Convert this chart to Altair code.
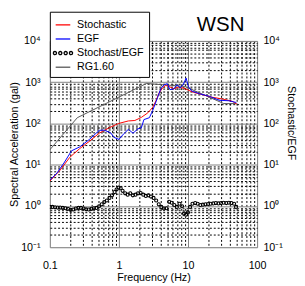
import altair as alt
import pandas as pd

# ---------------- data ----------------
stoch_freq = [0.1, 0.141, 0.195, 0.27, 0.374, 0.518, 0.715, 0.99, 1.37, 1.7, 2.11, 2.62,
              3.08, 3.43, 3.82, 4.26, 4.74, 5.28, 6.21, 7.31, 8.59, 10.1, 11.9, 16.4,
              22.7, 31.5, 43.5, 51]
stoch_val = [4.0, 7.4, 15.2, 24.5, 37, 58, 78, 100, 115, 118, 140, 181,
             245, 353, 552, 723, 835, 791, 698, 750, 723, 640, 570, 495,
             430, 392, 345, 294]

egf_freq = [0.1, 0.127, 0.16, 0.206, 0.27, 0.374, 0.518, 0.61, 0.76, 0.85, 1.0, 1.16,
            1.37, 1.6, 1.88, 2.11, 2.3, 2.76, 3.08, 3.62, 4.04, 4.5, 5.01, 5.46,
            6.21, 6.92, 7.71, 8.59, 9.38, 10.1, 11.3, 14.8, 20.4, 28.2, 39, 50]
egf_val = [4.2, 6.3, 11, 21.7, 27, 41, 68, 69, 59, 46, 41, 55,
           72, 58, 74, 78, 124, 138, 206, 422, 698, 866, 920, 661,
           685, 866, 723, 900, 1260, 791, 610, 523, 455, 365, 355, 322]

rg_freq = [0.1, 0.25, 2.5, 9, 33, 50]
rg_val = [23, 138, 930, 790, 303, 303]

ratio_freq = [0.1, 0.109, 0.119, 0.130, 0.141, 0.154, 0.168, 0.183, 0.200, 0.218,
              0.238, 0.259, 0.282, 0.308, 0.336, 0.366, 0.399, 0.435, 0.473, 0.516,
              0.563, 0.613, 0.669, 0.729, 0.795, 0.866, 0.924, 0.990, 1.06, 1.13,
              1.23, 1.34, 1.46, 1.59, 1.74, 1.89, 2.06, 2.25, 2.45, 2.67,
              2.91, 3.17, 3.46, 3.77, 4.11, 4.48, 4.89, 5.33, 5.81, 6.33,
              6.90, 7.53, 8.21, 8.76, 9.35, 9.98, 10.7, 11.6, 12.7, 13.8,
              15.1, 16.4, 17.9, 19.5, 21.3, 23.2, 25.3, 27.6, 30.1, 32.8,
              35.8, 39.0, 42.5, 46.4, 49.5]
ratio_val = [0.947, 0.947, 0.931, 0.914, 0.914, 0.898, 0.882, 0.851, 0.806, 0.820,
             0.866, 0.898, 0.898, 0.866, 0.835, 0.820, 0.851, 0.882, 0.898, 0.982,
             1.094, 1.241, 1.358, 1.567, 1.810, 2.167, 2.50, 2.79, 2.69, 2.33,
             2.02, 1.88, 2.02, 1.81, 1.88, 2.02, 2.05, 1.88, 1.75, 1.81,
             1.69, 1.567, 1.358, 1.094, 0.947, 0.866, 0.882, 1.26, 1.20, 1.055,
             0.947, 1.134, 0.982, 0.661, 0.615, 0.698, 0.947, 1.134, 1.176, 1.134,
             1.055, 1.075, 1.094, 1.114, 1.134, 1.155, 1.176, 1.155, 1.176, 1.20,
             1.176, 1.20, 1.176, 1.134, 0.947]

series_names = ["Stochastic", "EGF", "Stochast/EGF", "RG1.60"]
series_colors = ["#ff0000", "#0000ff", "#000000", "#555555"]

x_ticks = [0.1, 0.2, 0.3, 0.4, 0.5, 0.6, 0.7, 0.8, 0.9,
           1, 2, 3, 4, 5, 6, 7, 8, 9,
           10, 20, 30, 40, 50, 60, 70, 80, 90, 100]
y_ticks = [0.1, 0.2, 0.3, 0.4, 0.5, 0.6, 0.7, 0.8, 0.9,
           1, 2, 3, 4, 5, 6, 7, 8, 9,
           10, 20, 30, 40, 50, 60, 70, 80, 90,
           100, 200, 300, 400, 500, 600, 700, 800, 900,
           1000, 2000, 3000, 4000, 5000, 6000, 7000, 8000, 9000, 10000]
y_exp_labels = ["10\u207b\u00b9", "10\u2070", "10\u00b9", "10\u00b2", "10\u00b3", "10\u2074"]

# ---------------- table ----------------
def part(f, v, name):
    return pd.DataFrame({"f": f, "v": v, "series": name})

df = pd.concat([
    part(stoch_freq, stoch_val, "Stochastic"),
    part(egf_freq, egf_val, "EGF"),
    part(rg_freq, rg_val, "RG1.60"),
    part(ratio_freq, ratio_val, "Stochast/EGF"),
], ignore_index=True)

FONT = "Liberation Sans"
L = "log(datum.value)/LN10"
is_dec = f"abs({L} - round({L})) < 0.001"

grid_color = {"condition": {"test": is_dec, "value": "#808080"}, "value": "#000000"}
grid_dash = {"condition": {"test": is_dec, "value": []}, "value": [2, 2]}

y_label_expr = (f"{is_dec} ? ['" + "','".join(y_exp_labels) + f"'][round({L}) + 1] : ''")
x_label_expr = f"{is_dec} ? format(datum.value, '~g') : ''"

x_enc = alt.X(
    "f:Q",
    scale=alt.Scale(type="log", domain=[0.1, 100], nice=False),
    axis=alt.Axis(
        values=x_ticks, labelExpr=x_label_expr, labelOverlap=False, labelFlush=False,
        grid=True, gridColor=grid_color, gridDash=grid_dash, gridWidth=1,
        ticks=False, domain=False, labelPadding=22, labelBaseline="alphabetic",
        labelFontSize=11, labelFont=FONT, labelColor="black",
        title="Frequency (Hz)", titleFont=FONT, titleFontSize=11, titleFontWeight="normal",
        titleColor="black", titleX=106.5, titleY=34, titleBaseline="alphabetic",
    ),
)

y_scale = alt.Scale(type="log", domain=[0.1, 10000], nice=False)

y_left = alt.Y(
    "v:Q", scale=y_scale,
    axis=alt.Axis(
        values=y_ticks, labelExpr=y_label_expr, labelOverlap=False, labelFlush=False,
        grid=True, gridColor=grid_color, gridDash=grid_dash, gridWidth=1,
        ticks=False, domain=False, labelPadding=10, labelBaseline="middle",
        labelFontSize=11, labelFont=FONT, labelColor="black",
        title="Spectral Acceleration (gal)", titleFont=FONT, titleFontSize=11,
        titleFontWeight="normal", titleColor="black", titleX=-36, titleY=106,
        titleBaseline="middle",
    ),
)

y_right = alt.Y(
    "v:Q", scale=y_scale,
    axis=alt.Axis(
        orient="right", values=y_ticks, labelExpr=y_label_expr, labelOverlap=False,
        labelFlush=False, grid=False, ticks=False, domain=False, labelPadding=6,
        labelBaseline="middle", labelFontSize=11, labelFont=FONT, labelColor="black",
        title="Stochastic/EGF", titleFont=FONT, titleFontSize=11, titleFontWeight="normal",
        titleColor="black", titleAngle=90, titleX=34, titleY=84, titleBaseline="middle",
    ),
)

# legend symbol for the ratio series: a row of four small circles
r = 0.22
circles = ""
for c in (-1.1, -0.37, 0.37, 1.1):
    circles += f"M{c - r:.3f},0A{r},{r} 0 1,0 {c + r:.3f},0A{r},{r} 0 1,0 {c - r:.3f},0Z"

legend = alt.Legend(
    title=None, orient="none", legendX=0, legendY=-30,
    fillColor="white", strokeColor="black", padding=5, rowPadding=0.5,
    labelFontSize=11, labelFont=FONT, labelColor="black", labelOffset=6,
    symbolSize=225, symbolStrokeWidth=1.3, symbolOpacity=1, symbolFillColor="transparent",
)

color_enc = alt.Color("series:N", scale=alt.Scale(domain=series_names, range=series_colors),
                      legend=legend)
shape_enc = alt.Shape("series:N",
                      scale=alt.Scale(domain=series_names,
                                      range=["stroke", "stroke", circles, "stroke"]),
                      legend=legend)

base = alt.Chart(df)

def line_layer(name):
    return (base.transform_filter(alt.datum.series == name)
            .mark_line(strokeWidth=1, clip=True)
            .encode(x=x_enc, y=y_left, color=color_enc))

legend_layer = (base.transform_filter("false")
                .mark_point(filled=False, clip=True)
                .encode(x=x_enc, y=y_left, color=color_enc, shape=shape_enc))

left = alt.layer(line_layer("RG1.60"), line_layer("Stochastic"), line_layer("EGF"),
                 legend_layer)

ratio_layer = (base.transform_filter(alt.datum.series == "Stochast/EGF")
               .mark_point(filled=False, shape="circle", size=10, strokeWidth=1.1,
                           opacity=1, clip=True)
               .encode(x=x_enc, y=y_right, color=color_enc))

chart = (
    alt.layer(left, ratio_layer)
    .resolve_scale(y="independent")
    .properties(
        width=213, height=212,
        padding={"left": 43, "top": 30, "right": 41, "bottom": 36},
        autosize=alt.AutoSizeParams(type="none"),
        title=alt.TitleParams("WSN", anchor="end", frame="group", fontSize=21,
                              fontWeight="normal", font=FONT, color="black",
                              dx=-13, offset=-41, baseline="alphabetic"),
    )
    .configure_view(stroke="black", strokeWidth=1)
    .configure(background="white")
)

chart.save("out.html", embed_options={"renderer": "svg", "actions": False})
